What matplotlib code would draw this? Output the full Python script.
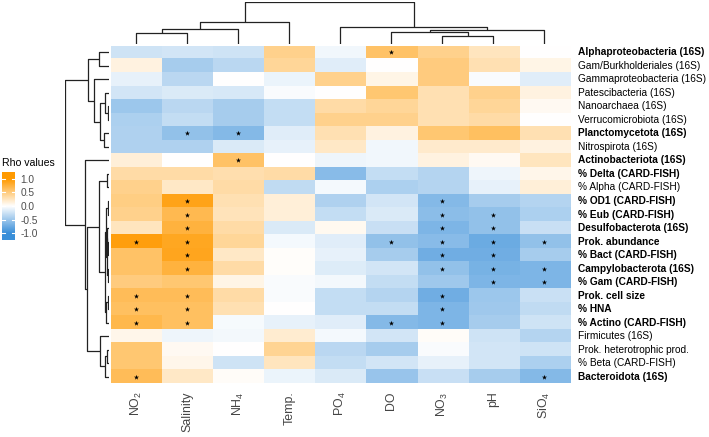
import numpy as np
import matplotlib
matplotlib.use("Agg")
import matplotlib.pyplot as plt
from matplotlib.colors import LinearSegmentedColormap, Normalize

plt.rcParams['font.family'] = ['Liberation Sans', 'DejaVu Sans']
plt.rcParams['mathtext.default'] = 'regular'

# columns (environmental variables), in dendrogram order
variables = ['NO$_2$', 'Salinity', 'NH$_4$', 'Temp.', 'PO$_4$', 'DO', 'NO$_3$', 'pH', 'SiO$_4$']

# rows (microbial variables), top to bottom
taxa = ['Alphaproteobacteria (16S)', 'Gam/Burkholderiales (16S)', 'Gammaproteobacteria (16S)',
        'Patescibacteria (16S)', 'Nanoarchaea (16S)', 'Verrucomicrobiota (16S)',
        'Planctomycetota (16S)', 'Nitrospirota (16S)', 'Actinobacteriota (16S)',
        '% Delta (CARD-FISH)', '% Alpha (CARD-FISH)', '% OD1 (CARD-FISH)', '% Eub (CARD-FISH)',
        'Desulfobacterota (16S)', 'Prok. abundance', '% Bact (CARD-FISH)',
        'Campylobacterota (16S)', '% Gam (CARD-FISH)', 'Prok. cell size', '% HNA',
        '% Actino (CARD-FISH)', 'Firmicutes (16S)', 'Prok. heterotrophic prod.',
        '% Beta (CARD-FISH)', 'Bacteroidota (16S)']

bold_rows = [1, 0, 0, 0, 0, 0, 1, 0, 1, 1, 0, 1, 1, 1, 1, 1, 1, 1, 1, 1, 1, 0, 0, 0, 1]

# Spearman rho values
rho = [
    [-0.25, -0.22, -0.25, 0.45, -0.07, 0.60, 0.45, 0.25, 0.00],
    [0.12, -0.45, -0.35, 0.40, -0.15, 0.00, 0.50, 0.30, 0.10],
    [-0.12, -0.35, 0.00, -0.10, 0.45, 0.10, 0.50, -0.03, -0.15],
    [-0.22, -0.18, -0.20, -0.03, 0.00, 0.55, 0.30, 0.45, 0.12],
    [-0.50, -0.35, -0.45, -0.30, 0.35, 0.40, 0.30, 0.40, 0.05],
    [-0.42, -0.30, -0.45, -0.30, 0.45, 0.45, 0.30, 0.35, 0.00],
    [-0.40, -0.55, -0.62, -0.15, 0.30, 0.12, 0.55, 0.62, 0.30],
    [-0.40, -0.40, -0.18, -0.12, 0.22, -0.07, 0.20, 0.20, 0.12],
    [0.15, 0.00, 0.60, 0.00, -0.08, -0.07, 0.12, 0.05, 0.25],
    [0.35, 0.35, 0.32, 0.35, -0.60, -0.30, -0.38, -0.08, 0.08],
    [0.45, 0.22, 0.35, -0.32, -0.05, -0.42, -0.38, -0.12, 0.15],
    [0.48, 0.90, 0.30, 0.15, -0.40, -0.22, -0.62, -0.45, -0.38],
    [0.45, 0.68, 0.27, 0.15, -0.30, -0.18, -0.58, -0.55, -0.42],
    [0.25, 0.75, 0.35, -0.18, 0.06, -0.28, -0.65, -0.55, -0.28],
    [0.95, 0.86, 0.40, -0.05, -0.15, -0.55, -0.60, -0.75, -0.55],
    [0.60, 0.88, 0.22, 0.02, -0.12, -0.45, -0.72, -0.72, -0.45],
    [0.60, 0.75, 0.35, 0.02, -0.17, -0.22, -0.55, -0.68, -0.65],
    [0.50, 0.55, 0.10, -0.03, -0.06, -0.30, -0.48, -0.65, -0.65],
    [0.65, 0.65, 0.35, -0.03, -0.30, -0.38, -0.72, -0.50, -0.27],
    [0.62, 0.62, 0.30, 0.00, -0.30, -0.30, -0.65, -0.48, -0.32],
    [0.70, 0.62, -0.04, -0.12, -0.15, -0.62, -0.65, -0.45, -0.25],
    [0.08, -0.08, -0.06, 0.18, -0.05, -0.22, 0.03, -0.25, -0.38],
    [0.55, 0.05, 0.00, 0.42, -0.35, -0.45, -0.03, -0.22, -0.25],
    [0.55, 0.08, -0.25, 0.25, -0.30, -0.22, -0.12, -0.22, -0.42],
    [0.65, 0.22, 0.03, -0.10, -0.18, -0.52, -0.28, -0.45, -0.62],
]

# significant correlations (1 = asterisk)
signif = [
    [0, 0, 0, 0, 0, 1, 0, 0, 0],
    [0, 0, 0, 0, 0, 0, 0, 0, 0],
    [0, 0, 0, 0, 0, 0, 0, 0, 0],
    [0, 0, 0, 0, 0, 0, 0, 0, 0],
    [0, 0, 0, 0, 0, 0, 0, 0, 0],
    [0, 0, 0, 0, 0, 0, 0, 0, 0],
    [0, 1, 1, 0, 0, 0, 0, 0, 0],
    [0, 0, 0, 0, 0, 0, 0, 0, 0],
    [0, 0, 1, 0, 0, 0, 0, 0, 0],
    [0, 0, 0, 0, 0, 0, 0, 0, 0],
    [0, 0, 0, 0, 0, 0, 0, 0, 0],
    [0, 1, 0, 0, 0, 0, 1, 0, 0],
    [0, 1, 0, 0, 0, 0, 1, 1, 0],
    [0, 1, 0, 0, 0, 0, 1, 1, 0],
    [1, 1, 0, 0, 0, 1, 1, 1, 1],
    [0, 1, 0, 0, 0, 0, 1, 1, 0],
    [0, 1, 0, 0, 0, 0, 1, 1, 1],
    [0, 0, 0, 0, 0, 0, 0, 1, 1],
    [1, 1, 0, 0, 0, 0, 1, 0, 0],
    [1, 1, 0, 0, 0, 0, 1, 0, 0],
    [1, 1, 0, 0, 0, 1, 1, 0, 0],
    [0, 0, 0, 0, 0, 0, 0, 0, 0],
    [0, 0, 0, 0, 0, 0, 0, 0, 0],
    [0, 0, 0, 0, 0, 0, 0, 0, 0],
    [1, 0, 0, 0, 0, 0, 0, 0, 1],
]

# linkage-style merges: (child a, child b, height); new ids start at n_leaves
col_links = [(0, 1, 10.7), (9, 2, 15), (10, 3, 22.7), (6, 7, 8.3), (5, 12, 12.3),
             (13, 8, 14.3), (4, 14, 17), (11, 15, 42)]
row_links = [(0, 1, 10.7), (4, 5, 1.5), (3, 26, 4), (6, 7, 5), (27, 28, 9.3),
             (2, 29, 15), (25, 30, 21.7), (9, 10, 2.5), (11, 12, 1.5), (14, 15, 1),
             (13, 34, 2), (16, 17, 1.5), (35, 36, 2.5), (33, 37, 3), (18, 19, 1.5),
             (39, 20, 3), (38, 40, 4), (32, 41, 10.7), (22, 23, 2), (43, 24, 4),
             (21, 44, 9), (42, 45, 22.7), (8, 46, 24.3), (31, 47, 44.3)]


def draw_dendro(ax, links, n, vertical):
    pos = {i: float(i) for i in range(n)}
    hgt = {i: 0.0 for i in range(n)}
    for k, (a, b, h) in enumerate(links):
        xs = [pos[a], pos[a], pos[b], pos[b]]
        ys = [hgt[a], h, h, hgt[b]]
        if vertical:
            ax.plot(xs, ys, color='#222222', lw=0.9, solid_capstyle='butt')
        else:
            ax.plot(ys, xs, color='#222222', lw=0.9, solid_capstyle='butt')
        pos[n + k] = (pos[a] + pos[b]) / 2
        hgt[n + k] = h


W, H = 709, 437
fig = plt.figure(figsize=(W / 100, H / 100), dpi=100)


def box(x0, y0, x1, y1):
    return [x0 / W, 1 - y1 / H, (x1 - x0) / W, (y1 - y0) / H]


cmap = LinearSegmentedColormap.from_list('rho', ['#3A8FD9', '#FFFFFF', '#FF9A00'])
norm = Normalize(-1, 1)

# heatmap
data = np.array(rho)
ax = fig.add_axes(box(110.7, 45.7, 570, 383.3))
ax.imshow(data, cmap=cmap, norm=norm, aspect='auto', interpolation='nearest')
rr, cc = np.nonzero(np.array(signif))
ax.scatter(cc, rr, marker='*', s=15, color='black', linewidths=0, zorder=3)
ax.set_xlim(-0.5, len(variables) - 0.5)
ax.set_ylim(len(taxa) - 0.5, -0.5)
ax.set_xticks([])
ax.set_yticks([])
for s in ax.spines.values():
    s.set_visible(False)

for i, lab in enumerate(variables):
    ax.text(i, len(taxa) - 0.5 + 0.6, lab, rotation=90, ha='center', va='top',
            fontsize=8.9, color='#444444')
for j, lab in enumerate(taxa):
    ax.text(len(variables) - 0.5 + 0.16, j, lab, ha='left', va='center', fontsize=7.3,
            color='black', fontweight='bold' if bold_rows[j] else 'normal')

# column dendrogram
axt = fig.add_axes(box(110.7, 2, 570, 44))
draw_dendro(axt, col_links, len(variables), True)
axt.set_xlim(-0.5, len(variables) - 0.5)
axt.set_ylim(0, 42.5)
axt.axis('off')

# row dendrogram
axl = fig.add_axes(box(64.5, 45.7, 109.5, 383.3))
draw_dendro(axl, row_links, len(taxa), False)
axl.set_ylim(len(taxa) - 0.5, -0.5)
axl.set_xlim(44.8, 0)
axl.axis('off')

# colour legend
axc = fig.add_axes(box(2, 172, 15, 240))
grad = np.linspace(-1.25, 1.25, 200).reshape(-1, 1)
axc.imshow(grad, cmap=cmap, norm=norm, aspect='auto', origin='lower',
           extent=(0, 1, -1.25, 1.25))
axc.set_xlim(0, 1)
axc.set_ylim(-1.25, 1.25)
for t in [-1, -0.5, 0, 0.5, 1]:
    axc.plot([0, 0.2], [t, t], color='white', lw=0.8)
    axc.plot([0.8, 1], [t, t], color='white', lw=0.8)
axc.set_xticks([])
axc.set_yticks([-1, -0.5, 0, 0.5, 1])
axc.set_yticklabels(['-1.0', '-0.5', '0.0', '0.5', '1.0'], fontsize=7.3, color='#4d4d4d')
axc.yaxis.tick_right()
axc.tick_params(axis='y', length=0, pad=4)
for s in axc.spines.values():
    s.set_visible(False)
fig.text(2 / W, 1 - 166 / H, 'Rho values', fontsize=7.6, ha='left', va='baseline')

fig.savefig('out.png', dpi=100)
